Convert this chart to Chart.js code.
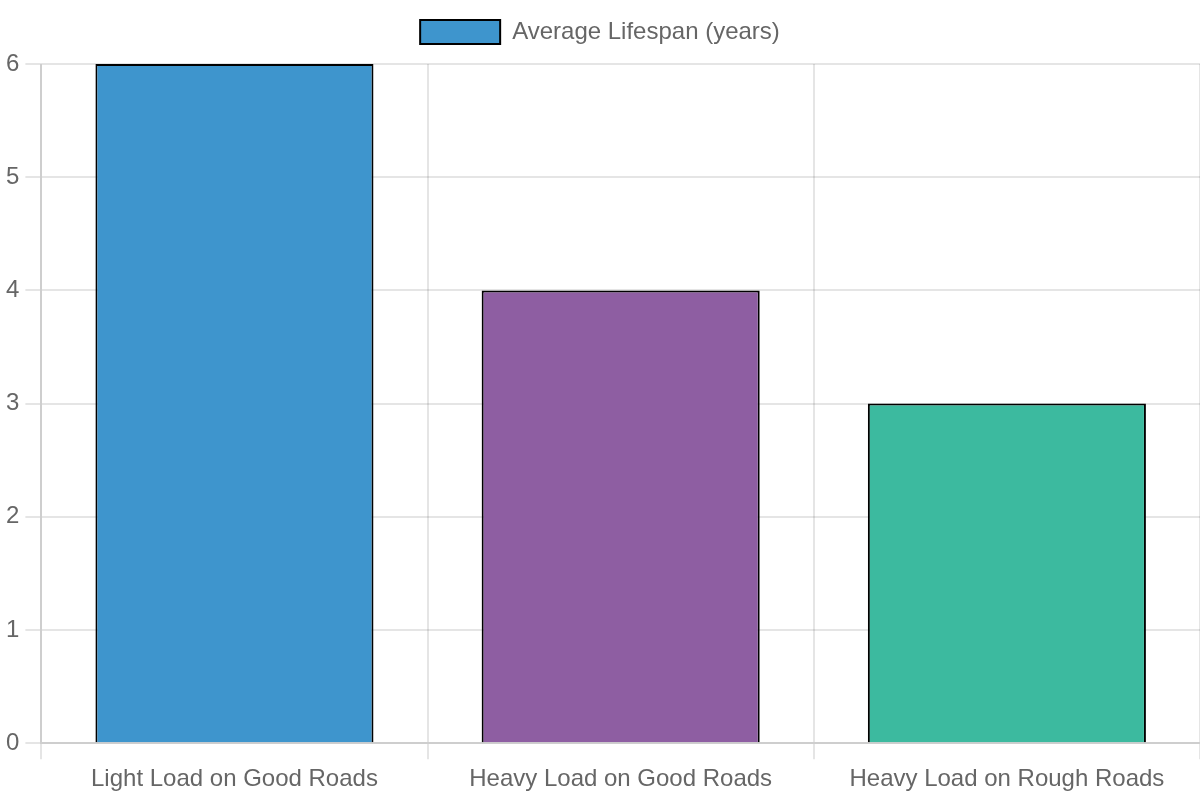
<!DOCTYPE html>
<html>
<head>
<meta charset="utf-8">
<script src="https://cdn.jsdelivr.net/npm/chart.js@4"></script>
<style>
html,body{margin:0;padding:0;background:#fff;width:1200px;height:800px;}
#wrap{width:600px;height:400px;transform:scale(2);transform-origin:0 0;}
</style>
</head>
<body>
<div id="wrap"><canvas id="c" width="600" height="400"></canvas></div>
<script>
const categories = ["Light Load on Good Roads", "Heavy Load on Good Roads", "Heavy Load on Rough Roads"];
const lifespanYears = [6, 4, 3];
const seriesLabel = "Average Lifespan (years)";
const barColors = ["#3e95cd", "#8e5ea2", "#3cba9f"];

new Chart(document.getElementById('c'), {
  type: 'bar',
  data: {
    labels: categories,
    datasets: [{
      label: seriesLabel,
      data: lifespanYears,
      backgroundColor: barColors,
      borderColor: '#000',
      borderWidth: 1
    }]
  },
  options: {
    responsive: false,
    devicePixelRatio: 2,
    animation: false,
    scales: {
      y: { beginAtZero: true }
    }
  }
});
</script>
</body>
</html>
